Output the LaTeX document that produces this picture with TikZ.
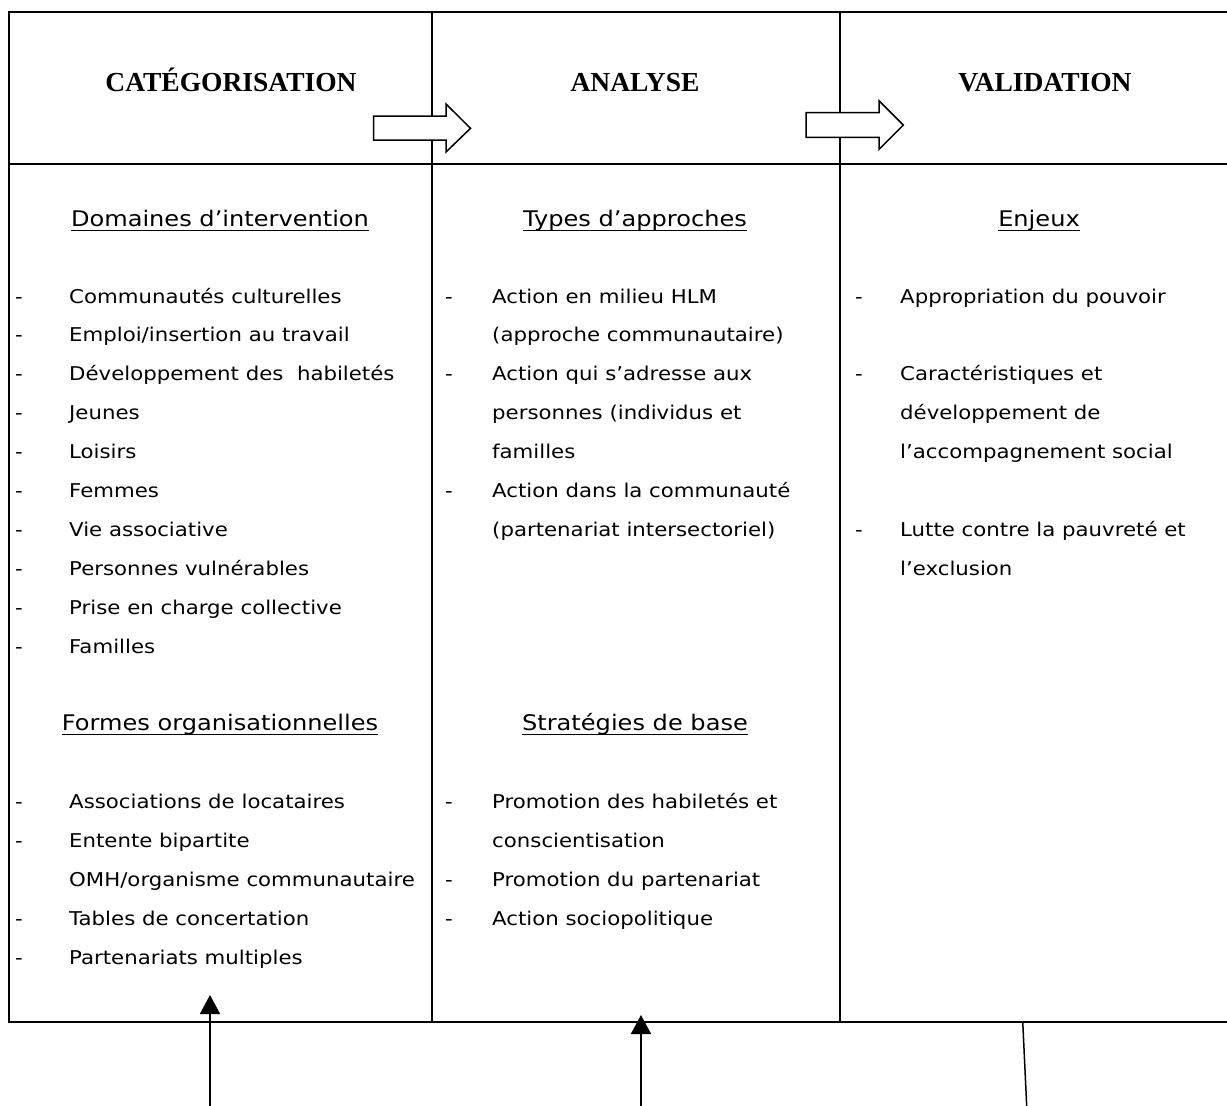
\documentclass[tikz,border=0pt]{standalone}
\usepackage{fontspec}
\setmainfont{DejaVu Sans}[FakeStretch=1.12]
\newfontfamily\titlefont{Liberation Serif}
\usetikzlibrary{arrows.meta}
\newcommand\bodyfont{\fontsize{19}{19}\selectfont}
\newcommand\headfont{\fontsize{21.5}{21.5}\selectfont}
\tikzset{
  frame/.style={line width=2.3pt, line cap=rect},
  item/.style={anchor=base west, inner sep=0pt, font=\bodyfont},
  dashmark/.style={anchor=base west, inner sep=0pt, font=\bodyfont},
  head/.style={anchor=base, inner sep=0pt, font=\headfont},
  ttl/.style={anchor=base, inner sep=0pt, font=\titlefont\bfseries\fontsize{27.5}{27.5}\selectfont},
  blockarrow/.style={draw=black, fill=white, line width=1.5pt, line join=miter},
  uparrow/.style={line width=1.6pt, -{Triangle[width=20pt,length=19pt]}},
}
\begin{document}
\begin{tikzpicture}[x=1pt,y=-1pt]
\useasboundingbox (0,0) rectangle (1227,1106);
% frame
\coordinate (tl) at (9,12); \coordinate (tr) at (1227,12);
\coordinate (bl) at (9,1022); \coordinate (br) at (1227,1022);
\coordinate (c1t) at (432,12); \coordinate (c1b) at (432,1022);
\coordinate (c2t) at (840,12); \coordinate (c2b) at (840,1022);
\coordinate (rl) at (9,164); \coordinate (rr) at (1227,164);
\draw[frame] (tr) -- (tl) -- (bl) -- (br);
\draw[frame] (c1t) -- (c1b);
\draw[frame] (c2t) -- (c2b);
\draw[frame] (rl) -- (rr);
% titles
\node[ttl] (t1) at (231,91.5) {CATÉGORISATION};
\node[ttl] (t2) at (635,91.5) {ANALYSE};
\node[ttl] (t3) at (1045,91.5) {VALIDATION};
% block arrows
\draw[blockarrow] (373.5,116) -- (446,116) -- (446,104) -- (470.5,128.3) -- (446,152) -- (446,140) -- (373.5,140) -- cycle;
\draw[blockarrow] (806,112.7) -- (879,112.7) -- (879,100.7) -- (903.3,125) -- (879,149.3) -- (879,137.3) -- (806,137.3) -- cycle;
% headings
\node[head] (h1) at (220,226) {Domaines d’intervention};
\node[head] (h2) at (635,226) {Types d’approches};
\node[head] (h3) at (1039,226) {Enjeux};
\node[head] (h4) at (220,730) {Formes organisationnelles};
\node[head] (h5) at (635,730) {Stratégies de base};
\foreach \h in {h1,h2,h3,h4,h5}
  \draw[line width=1.5pt] ([yshift=-4.5pt]\h.base west) -- ([yshift=-4.5pt]\h.base east);
% left column
\foreach \y/\t [count=\i] in {303/Communautés culturelles, 341.9/Emploi\slash insertion au travail, 380.8/Développement des\ \ habiletés, 419.7/Jeunes, 458.6/Loisirs, 497.5/Femmes, 536.4/Vie associative, 575.3/Personnes vulnérables, 614.2/Prise en charge collective, 653.1/Familles}
{
  \node[dashmark] (ld\i) at (15,\y) {-};
  \node[item] (li\i) at (69,\y) {\t};
}
\node[dashmark] (ldA) at (15,808.7) {-};
\node[item] (liA) at (69,808.7) {Associations de locataires};
\node[dashmark] (ldB) at (15,847.6) {-};
\node[item] (liB) at (69,847.6) {Entente bipartite};
\node[item] (liC) at (69,886.5) {OMH/organisme communautaire};
\node[dashmark] (ldD) at (15,925.4) {-};
\node[item] (liD) at (69,925.4) {Tables de concertation};
\node[dashmark] (ldE) at (15,964.3) {-};
\node[item] (liE) at (69,964.3) {Partenariats multiples};
% middle column
\node[dashmark] (md1) at (445,303) {-};
\node[item] (mi1) at (492,303) {Action en milieu HLM};
\node[item] (mi2) at (492,341.9) {(approche communautaire)};
\node[dashmark] (md3) at (445,380.8) {-};
\node[item] (mi3) at (492,380.8) {Action qui s’adresse aux};
\node[item] (mi4) at (492,419.7) {personnes (individus et};
\node[item] (mi5) at (492,458.6) {familles};
\node[dashmark] (md6) at (445,497.5) {-};
\node[item] (mi6) at (492,497.5) {Action dans la communauté};
\node[item] (mi7) at (492,536.4) {(partenariat intersectoriel)};
\node[dashmark] (mdA) at (445,808.7) {-};
\node[item] (miA) at (492,808.7) {Promotion des habiletés et};
\node[item] (miB) at (492,847.6) {conscientisation};
\node[dashmark] (mdC) at (445,886.5) {-};
\node[item] (miC) at (492,886.5) {Promotion du partenariat};
\node[dashmark] (mdD) at (445,925.4) {-};
\node[item] (miD) at (492,925.4) {Action sociopolitique};
% right column
\node[dashmark] (rd1) at (855,303) {-};
\node[item] (ri1) at (900,303) {Appropriation du pouvoir};
\node[dashmark] (rd2) at (855,380.8) {-};
\node[item] (ri2) at (900,380.8) {Caractéristiques et};
\node[item] (ri3) at (900,419.7) {développement de};
\node[item] (ri4) at (900,458.6) {l’accompagnement social};
\node[dashmark] (rd5) at (855,536.4) {-};
\node[item] (ri5) at (900,536.4) {Lutte contre la pauvreté et};
\node[item] (ri6) at (900,575.3) {l’exclusion};
% bottom arrows
\coordinate (a1s) at (210,1106); \coordinate (a1e) at (210,995);
\coordinate (a2s) at (641,1106); \coordinate (a2e) at (641,1015);
\coordinate (a3s) at (1026.7,1106); \coordinate (a3e) at (1022.7,1021);
\draw[uparrow] (a1s) -- (a1e);
\draw[uparrow] (a2s) -- (a2e);
\draw[line width=1.5pt] (a3s) -- (a3e);
\end{tikzpicture}
\end{document}
